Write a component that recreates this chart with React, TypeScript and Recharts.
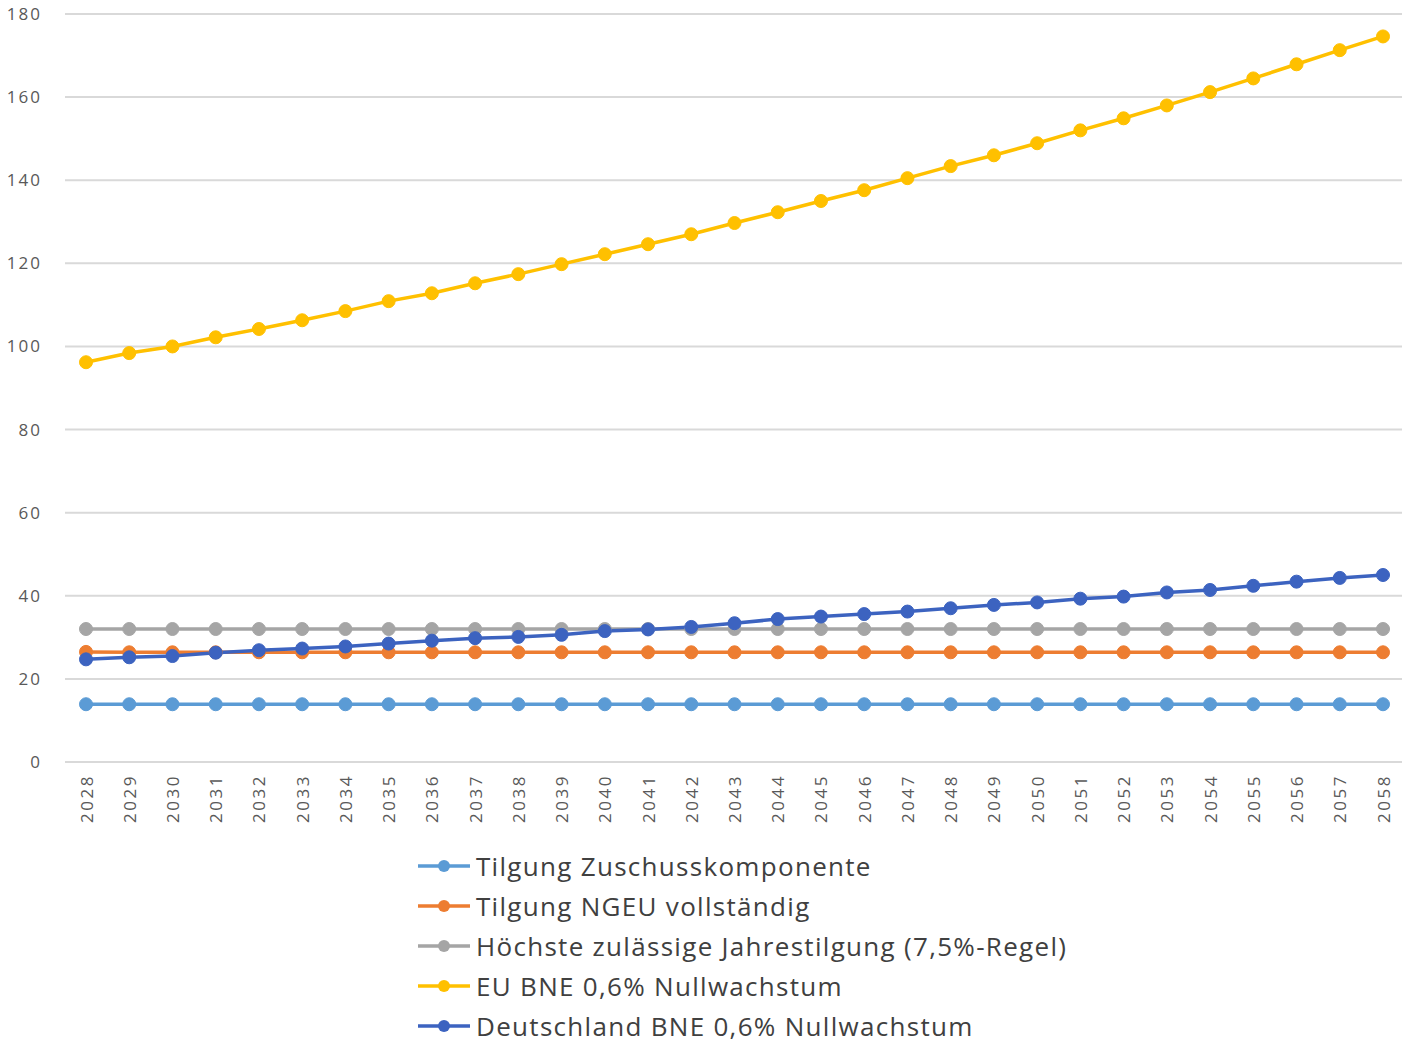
import React from 'react';
import { LineChart, Line, XAxis, YAxis, CartesianGrid, Legend } from 'recharts';

const YEARS = [
  '2028', '2029', '2030', '2031', '2032', '2033', '2034', '2035', '2036', '2037', '2038',
  '2039', '2040', '2041', '2042', '2043', '2044', '2045', '2046', '2047', '2048', '2049',
  '2050', '2051', '2052', '2053', '2054', '2055', '2056', '2057', '2058',
];

const ZUSCHUSS = [
  13.9, 13.9, 13.9, 13.9, 13.9, 13.9, 13.9, 13.9, 13.9, 13.9, 13.9, 13.9, 13.9, 13.9, 13.9, 13.9,
  13.9, 13.9, 13.9, 13.9, 13.9, 13.9, 13.9, 13.9, 13.9, 13.9, 13.9, 13.9, 13.9, 13.9, 13.9,
];

const NGEU = [
  26.5, 26.4, 26.4, 26.4, 26.4, 26.4, 26.4, 26.4, 26.4, 26.4, 26.4, 26.4, 26.4, 26.4, 26.4, 26.4,
  26.4, 26.4, 26.4, 26.4, 26.4, 26.4, 26.4, 26.4, 26.4, 26.4, 26.4, 26.4, 26.4, 26.4, 26.4,
];

const HOECHST = [
  32, 32, 32, 32, 32, 32, 32, 32, 32, 32, 32, 32, 32, 32, 32, 32,
  32, 32, 32, 32, 32, 32, 32, 32, 32, 32, 32, 32, 32, 32, 32,
];

const EU_BNE = [
  96.2, 98.4, 100, 102.2, 104.2, 106.3, 108.5, 110.9, 112.8, 115.2, 117.4, 119.8, 122.2, 124.6,
  127, 129.7, 132.3, 135, 137.6, 140.5, 143.4, 146, 148.9, 152, 154.9, 158, 161.2, 164.5, 167.9,
  171.3, 174.6,
];

const DE_BNE = [
  24.7, 25.2, 25.5, 26.3, 26.9, 27.3, 27.8, 28.5, 29.2, 29.8, 30.1, 30.6, 31.5, 31.9, 32.5, 33.4,
  34.4, 35, 35.6, 36.2, 37, 37.8, 38.4, 39.3, 39.8, 40.8, 41.4, 42.4, 43.4, 44.3, 45,
];

const Y_TICKS = [0, 20, 40, 60, 80, 100, 120, 140, 160, 180];

const SERIES = [
  { key: 'zuschuss', name: 'Tilgung Zuschusskomponente', color: '#5B9BD5' },
  { key: 'ngeu', name: 'Tilgung NGEU vollständig', color: '#ED7D31' },
  { key: 'hoechst', name: 'Höchste zulässige Jahrestilgung (7,5%-Regel)', color: '#A5A5A5' },
  { key: 'eu', name: 'EU BNE 0,6% Nullwachstum', color: '#FFC000' },
  { key: 'de', name: 'Deutschland BNE 0,6% Nullwachstum', color: '#3C63C0' },
];

const data = YEARS.map((year, i) => ({
  year,
  zuschuss: ZUSCHUSS[i],
  ngeu: NGEU[i],
  hoechst: HOECHST[i],
  eu: EU_BNE[i],
  de: DE_BNE[i],
}));

const FONT = '"Open Sans", sans-serif';
const AXIS_INK = '#595959';

function YearTick(props: any) {
  const { x, y, payload } = props;
  return (
    <text
      x={x}
      y={y}
      transform={`rotate(-90, ${x}, ${y})`}
      textAnchor="end"
      dominantBaseline="central"
      fill={AXIS_INK}
      fontSize={17}
      fontFamily={FONT}
      letterSpacing={2.5}
    >
      {payload.value}
    </text>
  );
}

function LegendBox() {
  return (
    <div style={{ fontFamily: FONT, color: '#404040', fontSize: 26, letterSpacing: 1.3 }}>
      {SERIES.map((s) => (
        <div key={s.key} style={{ display: 'flex', alignItems: 'center', height: 40 }}>
          <svg width={56} height={20} style={{ marginRight: 4 }}>
            <line x1={2} y1={10} x2={54} y2={10} stroke={s.color} strokeWidth={3.5} />
            <circle cx={28} cy={10} r={6} fill={s.color} />
          </svg>
          <span>{s.name}</span>
        </div>
      ))}
    </div>
  );
}

export default function App() {
  return (
    <div style={{ position: 'absolute', left: 0, top: 0, background: '#fff' }}>
      <LineChart
        width={1406}
        height={1047}
        data={data}
        margin={{ top: 14, right: 4, left: 0, bottom: 0 }}
      >
        <CartesianGrid vertical={false} stroke="#D9D9D9" strokeWidth={2} />
        <XAxis
          dataKey="year"
          height={285}
          axisLine={false}
          tickLine={false}
          tickSize={0}
          tickMargin={12}
          interval={0}
          padding={{ left: 21, right: 19 }}
          tick={<YearTick />}
        />
        <YAxis
          width={65}
          domain={[0, 180]}
          ticks={Y_TICKS}
          axisLine={false}
          tickLine={false}
          tickSize={0}
          tickMargin={23}
          tick={{ fill: AXIS_INK, fontSize: 17, fontFamily: FONT, letterSpacing: 2 }}
        />
        <Legend
          layout="horizontal"
          verticalAlign="middle"
          align="center"
          content={<LegendBox />}
          wrapperStyle={{ left: 416, top: 846, width: 'auto' }}
        />
        {SERIES.map((s) => (
          <Line
            key={s.key}
            type="linear"
            dataKey={s.key}
            name={s.name}
            stroke={s.color}
            strokeWidth={3.5}
            dot={{ r: 6.5, fill: s.color, stroke: s.color, strokeWidth: 1 }}
            activeDot={false}
            isAnimationActive={false}
          />
        ))}
      </LineChart>
    </div>
  );
}
